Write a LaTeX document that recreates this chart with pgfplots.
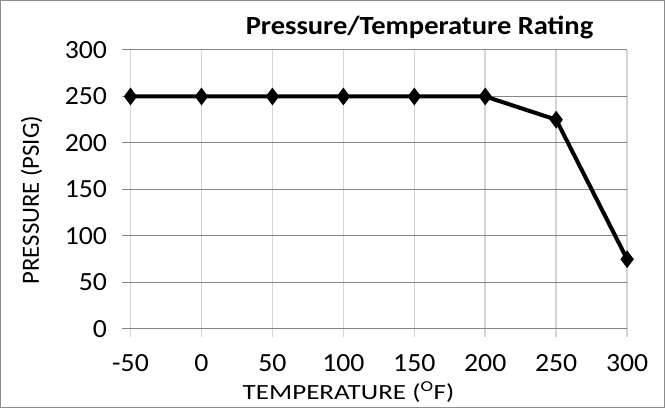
\documentclass[border=0pt]{standalone}
\usepackage{pgfplots}
\pgfplotsset{compat=1.18}
\usepackage{fontspec}
\setmainfont{Carlito}
\definecolor{hgrid}{HTML}{868686}
\definecolor{vgrid}{HTML}{D4D4D4}
\definecolor{chartframe}{HTML}{8C8C8C}
\begin{document}
\begin{tikzpicture}
\begin{axis}[
    name=ax,
    scale only axis,
    width=493bp, height=277bp,
    xmin=-50, xmax=300, ymin=0, ymax=300,
    xtick={-50,0,50,100,150,200,250,300},
    xticklabels={-50,0,50,100,150,200,250,300},
    ytick={0,50,100,150,200,250,300},
    axis x line*=bottom, axis y line*=left,
    x axis line style={draw=hgrid, line width=1bp, -},
    y axis line style={draw=none, -},
    tick align=outside,
    major tick length=8bp,
    xtick style={draw=vgrid, line width=1.5bp},
    ytick style={draw=hgrid, line width=1bp},
    xmajorgrids, ymajorgrids,
    x grid style={draw=vgrid, line width=1.5bp},
    y grid style={draw=hgrid, line width=1bp},
    /pgf/number format/assume math mode=true,
    ticklabel style={font=\fontsize{26bp}{30bp}\selectfont, xscale=1.06},
    yticklabel style={xshift=-11bp},
    xticklabel style={yshift=-16bp, inner ysep=1bp},
    title={Pressure/Temperature Rating},
    title style={font=\fontsize{26bp}{30bp}\selectfont\bfseries, xscale=1.09,
        at={(rel axis cs:0.582,1.0325)}, anchor=base},
    xlabel={TEMPERATURE (\textsuperscript{O}F)},
    xlabel style={font=\fontsize{21.5bp}{25bp}\selectfont, xscale=1.25,
        at={(rel axis cs:0.439,-0.2527)}, anchor=base, inner ysep=1bp},
    ylabel={PRESSURE (PSIG)},
    ylabel style={font=\fontsize{24.5bp}{28bp}\selectfont,
        at={(rel axis cs:-0.1846,0.462)}, anchor=base, rotate=0},
    clip=false,
]
\addplot[black, line width=4bp, mark=diamond*, mark size=5.5bp,
    mark options={solid, fill=black}] coordinates {
    (-50,250) (0,250) (50,250) (100,250) (150,250) (200,250) (250,225) (300,75)
};
\end{axis}
\draw[chartframe, line width=1.2bp]
    ([xshift=-129bp,yshift=-78bp]ax.south west) rectangle
    ([xshift=37bp,yshift=49bp]ax.north east);
\end{tikzpicture}
\end{document}
